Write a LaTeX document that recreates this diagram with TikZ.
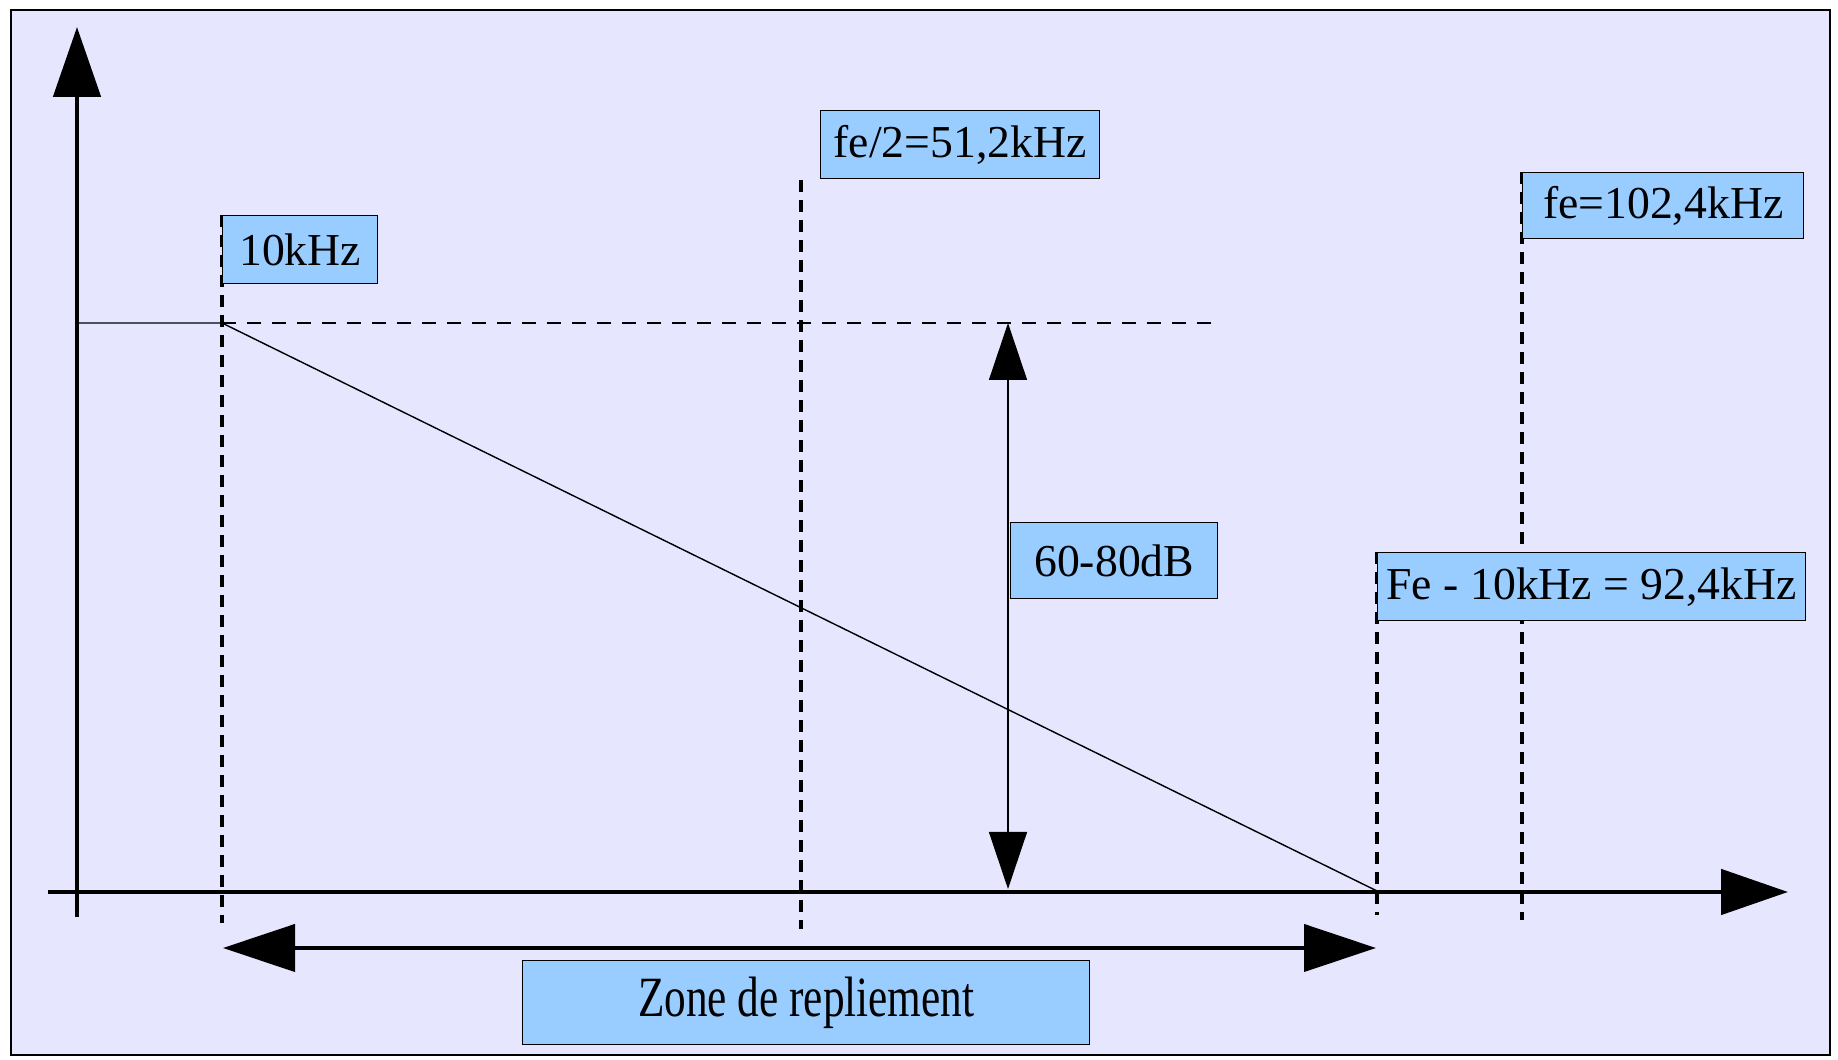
\documentclass[tikz,border=0pt]{standalone}
\usepackage{fontspec}
\setmainfont{Liberation Serif}
\newfontfamily\zonefont[FakeStretch=0.76]{Liberation Serif}
\usetikzlibrary{arrows.meta}
\definecolor{fond}{HTML}{E6E6FF}
\definecolor{etiq}{HTML}{99CCFF}

\begin{document}
\begin{tikzpicture}[
	etiquette/.style={draw, fill=etiq, line width=0.4pt, inner sep=0pt, anchor=north west,
		font=\fontsize{13}{15}\selectfont},
	axe/.style={line width=1.4pt},
	repere/.style={line width=1pt, dash pattern=on 0.12cm off 0.08cm},
	cote/.style={line width=0.4pt, {Triangle[length=0.57cm,width=0.38cm]}-{Triangle[length=0.57cm,width=0.38cm]}}]
	\useasboundingbox (0,0) rectangle (18.38,10.60);
	\draw[fill=fond, line width=0.4pt] (0.11,0.05) rectangle (18.30,10.50);
	% axes
	\coordinate (ybas) at (0.77,1.43);
	\coordinate (yhaut) at (0.77,10.33);
	\coordinate (xgauche) at (0.48,1.68);
	\coordinate (xdroite) at (17.88,1.68);
	\draw[axe, -{Triangle[length=0.70cm,width=0.47cm]}] (ybas) -- (yhaut);
	\draw[axe, -{Triangle[length=0.67cm,width=0.45cm]}] (xgauche) -- (xdroite);
	% reperes verticaux
	\coordinate (h10) at (2.22,8.45);    \coordinate (b10) at (2.22,1.37);
	\coordinate (hfe2) at (8.01,8.80);   \coordinate (bfe2) at (8.01,1.31);
	\coordinate (hrep) at (13.77,5.08);  \coordinate (brep) at (13.77,1.45);
	\coordinate (hfe) at (15.22,8.88);   \coordinate (bfe) at (15.22,1.40);
	\draw[repere] (h10) -- (b10);
	\draw[repere] (hfe2) -- (bfe2);
	\draw[repere] (hrep) -- (brep);
	\draw[repere] (hfe) -- (bfe);
	% gabarit du filtre
	\coordinate (palier) at (0.78,7.37);
	\coordinate (coude) at (2.22,7.37);
	\coordinate (niveau) at (12.18,7.37);
	\coordinate (fin) at (13.77,1.69);
	\draw[line width=0.4pt] (palier) -- (coude) -- (fin);
	\draw[line width=0.4pt, dash pattern=on 0.14cm off 0.11cm] (coude) -- (niveau);
	% attenuation
	\coordinate (att1) at (10.08,7.37);
	\coordinate (att2) at (10.08,1.71);
	\draw[cote] (att1) -- (att2);
	% zone de repliement
	\coordinate (zg) at (2.23,1.12);
	\coordinate (zd) at (13.76,1.12);
	\draw[line width=1.2pt, {Triangle[length=0.72cm,width=0.47cm]}-{Triangle[length=0.72cm,width=0.47cm]}] (zg) -- (zd);
	% etiquettes
	\node[etiquette, minimum width=1.55cm, minimum height=0.68cm] (f10) at (h10) {10kHz};
	\node[etiquette, minimum width=2.79cm, minimum height=0.68cm] (fe2) at (8.20,9.50) {fe/2=51,2kHz};
	\node[etiquette, minimum width=2.81cm, minimum height=0.66cm] (fe) at (hfe) {fe=102,4kHz};
	\node[etiquette, minimum width=4.28cm, minimum height=0.68cm] (rep) at (hrep) {Fe - 10kHz = 92,4kHz};
	\node[etiquette, minimum width=2.07cm, minimum height=0.76cm] (db) at (10.10,5.38) {60-80dB};
	\node[etiquette, minimum width=5.67cm, minimum height=0.84cm, font=\zonefont\fontsize{16.2}{19}\selectfont] (zone) at (5.22,1.00) {Zone de repliement};
\end{tikzpicture}
\end{document}
